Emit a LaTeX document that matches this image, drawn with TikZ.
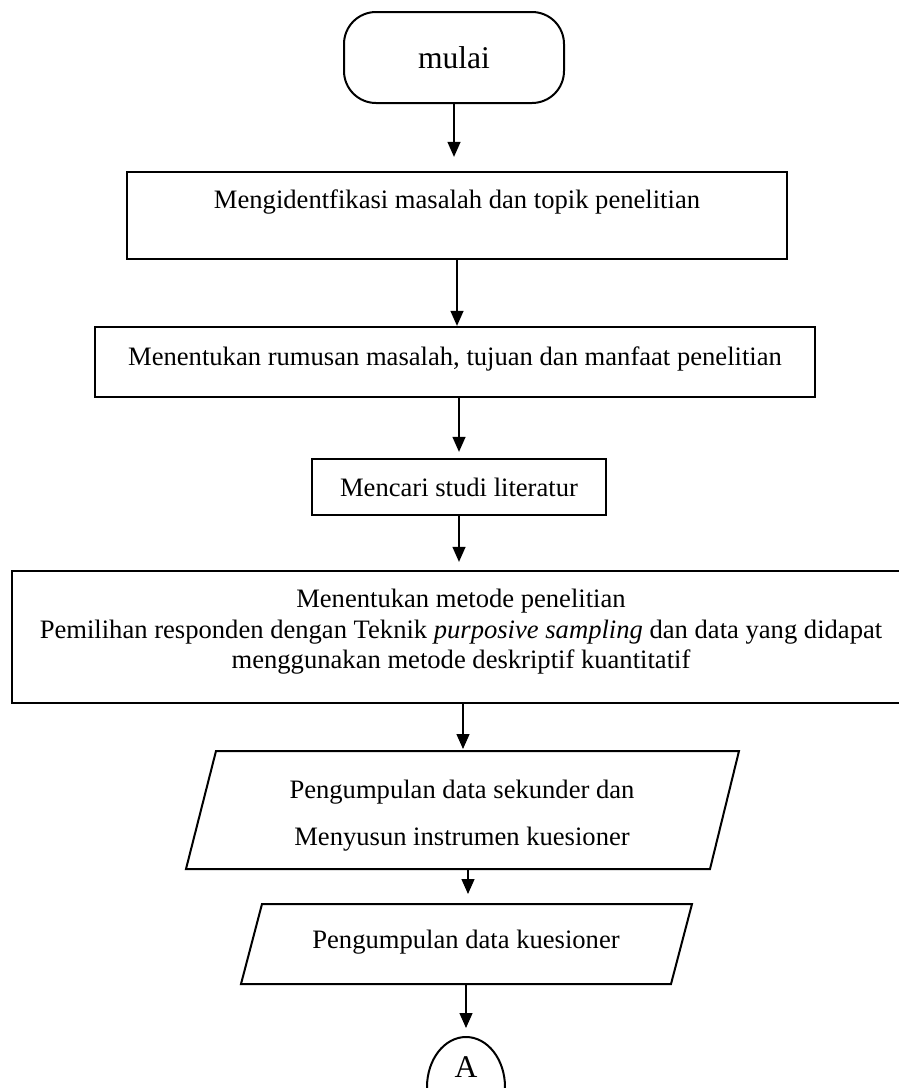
\documentclass[tikz,border=0pt]{standalone}
\usepackage{fontspec}
\setmainfont{Liberation Serif}
\usetikzlibrary{arrows.meta,shapes.geometric}
\newcommand\fsn{\fontsize{13.3}{15.2}\selectfont}
\begin{document}
\begin{tikzpicture}[x=0.5pt,y=-0.5pt,font=\fsn,
  box/.style={draw, line width=1.15pt, inner sep=0pt},
  arr/.style={line width=0.65pt, -{Triangle[width=6.5pt,length=7.5pt]}},
  para/.style={draw, line width=1pt, line join=miter},
]
\useasboundingbox (0,0) rectangle (899,1088);
\clip (0,0) rectangle (899,1088);

% terminal
\node[box, line width=1pt, rounded corners=16pt, minimum width=110pt, minimum height=45.5pt,
      font=\fontsize{15.8}{18}\selectfont] (term) at (454,57.5) {mulai};

% process boxes
\node[box, minimum width=330pt, minimum height=43.5pt,
      label={[yshift=6.5pt]center:Mengidentfikasi masalah dan topik penelitian}] (box1) at (457,215.5) {};
\node[box, minimum width=360pt, minimum height=35pt,
      label={[yshift=1.5pt]center:Menentukan rumusan masalah, tujuan dan manfaat penelitian}] (box2) at (455,362) {};
\node[box, minimum width=147pt, minimum height=28pt] (box3) at (459,487) {Mencari studi literatur};
\node[box, minimum width=449pt, minimum height=66pt,
      label={[yshift=2.5pt, align=center]center:Menentukan metode penelitian\\
      Pemilihan responden dengan Teknik \textit{purposive sampling} dan data yang didapat\\
      menggunakan metode deskriptif kuantitatif}] (box4) at (461,637) {};

% parallelogram 1
\coordinate (p1tl) at (216,751);
\coordinate (p1tr) at (739,751);
\coordinate (p1br) at (710,869);
\coordinate (p1bl) at (186,869);
\draw[para] (p1tl) -- (p1tr) -- (p1br) -- (p1bl) -- cycle;
\node[align=center, font=\fontsize{13.3}{23.5}\selectfont] (p1) at (462,816)
  {Pengumpulan data sekunder dan\\Menyusun instrumen kuesioner};
\coordinate (p1n) at (463,751);
\coordinate (p1s) at (468,869);

% parallelogram 2
\coordinate (p2tl) at (262,904);
\coordinate (p2tr) at (692,904);
\coordinate (p2br) at (671,984);
\coordinate (p2bl) at (241,984);
\draw[para] (p2tl) -- (p2tr) -- (p2br) -- (p2bl) -- cycle;
\node (p2) at (466,942) {Pengumpulan data kuesioner};
\coordinate (p2n) at (468,904);
\coordinate (p2s) at (467,984);

% connector circle
\node[draw, ellipse, line width=1pt, minimum width=39pt, minimum height=50pt, inner sep=0pt,
      label={[yshift=10pt, font=\fontsize{15.8}{18}\selectfont]center:A}] (ca) at (466,1087) {};

% arrows
\draw[arr, shorten >=7pt] (term.south) -- (term.south |- box1.north);
\draw[arr] (box1.south) -- (box1.south |- box2.north);
\draw[arr, shorten >=3pt] (box3.north |- box2.south) -- (box3.north);
\draw[arr, shorten >=4pt] (box3.south) -- (box3.south |- box4.north);
\draw[arr, shorten >=1pt] (p1n |- box4.south) -- (p1n);
\draw[arr, shorten >=5pt] (p1s) -- (p2n);
\draw[arr, shorten >=4pt] (ca.north |- p2s) -- (ca.north);
\end{tikzpicture}
\end{document}
